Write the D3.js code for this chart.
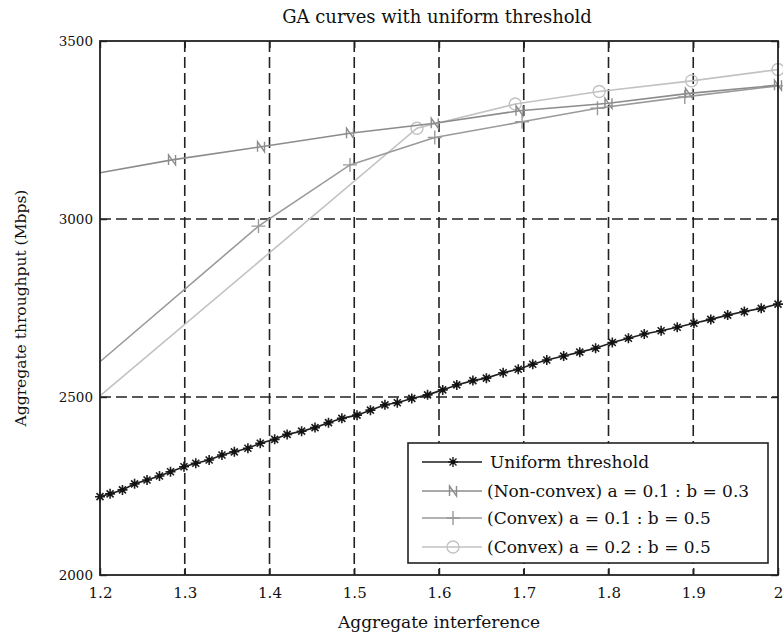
<!DOCTYPE html>
<html>
<head>
<meta charset="utf-8">
<script src="https://cdn.jsdelivr.net/npm/d3@7"></script>
<style>
  html, body { margin: 0; padding: 0; background: #fff; }
  svg text { font-family: "DejaVu Serif", "Liberation Serif", serif; fill: #111; }
</style>
</head>
<body>
<svg id="chart" width="783" height="640"></svg>
<script>
// ---- data ----
const xTickValues = [1.2, 1.3, 1.4, 1.5, 1.6, 1.7, 1.8, 1.9, 2.0];
const xTickLabels = ["1.2", "1.3", "1.4", "1.5", "1.6", "1.7", "1.8", "1.9", "2"];
const yTickValues = [2000, 2500, 3000, 3500];
const yTickLabels = ["2000", "2500", "3000", "3500"];

const uniformX = [1.2, 1.2119, 1.2265, 1.2408, 1.2555, 1.2702, 1.2832, 1.2991, 1.3130, 1.3288,
  1.3439, 1.3585, 1.3745, 1.3891, 1.4061, 1.4208, 1.4379, 1.4537, 1.4696,
  1.4854, 1.5033, 1.5191, 1.5362, 1.5508, 1.5679, 1.5865, 1.6044, 1.6210, 1.6400,
  1.6559, 1.6757, 1.6935, 1.7106, 1.7272, 1.7471, 1.7661,
  1.7848, 1.8045, 1.8235, 1.8422, 1.8621, 1.8811, 1.9008, 1.9207, 1.9406, 1.9603, 1.9802, 2.0];
const uniformY = [2220, 2228, 2239, 2256, 2267, 2278, 2290, 2304, 2314, 2323,
  2337, 2346, 2356, 2370, 2381, 2395, 2404, 2414, 2428,
  2440, 2449, 2463, 2478, 2484, 2496, 2506, 2520, 2534, 2546,
  2553, 2568, 2578, 2592, 2604, 2615, 2626,
  2637, 2653, 2665, 2677, 2686, 2696, 2707, 2718, 2730, 2740, 2749, 2761];

const nonConvexX = [1.2, 1.285, 1.39, 1.495, 1.595, 1.695, 1.8, 1.895, 2.0];
const nonConvexY = [3130, 3166, 3203, 3241, 3269, 3304, 3325, 3353, 3376];

const convexAX = [1.2, 1.387, 1.495, 1.595, 1.698, 1.787, 1.89, 2.0];
const convexAY = [2599, 2980, 3152, 3229, 3273, 3311, 3343, 3374];

const convexBX = [1.2, 1.574, 1.69, 1.789, 1.898, 2.0];
const convexBY = [2503, 3255, 3323, 3358, 3388, 3420];

const seriesNames = [
  "Uniform threshold",
  "(Non-convex) a = 0.1 : b = 0.3",
  "(Convex) a = 0.1 : b = 0.5",
  "(Convex) a = 0.2 : b = 0.5"
];

// ---- layout ----
const svg = d3.select("#chart");
const plotL = 100, plotR = 778, plotT = 41, plotB = 575;

const x = d3.scaleLinear().domain([1.2, 2.0]).range([plotL, plotR]);
const y = d3.scaleLinear().domain([2000, 3500]).range([plotB, plotT]);

// marker shapes
function markerPath(kind, s) {
  if (kind === "star") {
    const d = s * 0.7;
    return `M0,${-s}V${s}M${-s},0H${s}M${-d},${-d}L${d},${d}M${-d},${d}L${d},${-d}`;
  }
  if (kind === "n") {
    return `M${-s*0.7},${s}V${-s}L${s*0.7},${s}V${-s}`;
  }
  if (kind === "plus") {
    return `M0,${-s}V${s}M${-s},0H${s}`;
  }
  return "";
}

const series = [
  { name: seriesNames[0], xs: uniformX, ys: uniformY, color: "#1e1e1e", width: 1.6, marker: "star", size: 5, from: 0 },
  { name: seriesNames[1], xs: nonConvexX, ys: nonConvexY, color: "#8c8c8c", width: 1.6, marker: "n", size: 5, from: 1 },
  { name: seriesNames[2], xs: convexAX, ys: convexAY, color: "#9a9a9a", width: 1.6, marker: "plus", size: 7, from: 1 },
  { name: seriesNames[3], xs: convexBX, ys: convexBY, color: "#c2c2c2", width: 1.6, marker: "circle", size: 6, from: 1 }
];

// dashed grid
const gGrid = svg.append("g");
gGrid.selectAll("line.vx")
  .data(xTickValues.slice(1, -1))
  .enter().append("line")
  .attr("x1", d => x(d)).attr("x2", d => x(d))
  .attr("y1", plotT).attr("y2", plotB)
  .attr("stroke", "#222").attr("stroke-width", 1.6)
  .attr("stroke-dasharray", "11,5");
gGrid.selectAll("line.hy")
  .data(yTickValues.slice(1, -1))
  .enter().append("line")
  .attr("x1", plotL).attr("x2", plotR)
  .attr("y1", d => y(d)).attr("y2", d => y(d))
  .attr("stroke", "#222").attr("stroke-width", 1.6)
  .attr("stroke-dasharray", "11,5");

// series lines and markers (drawn back to front)
const line = d3.line().x(d => x(d[0])).y(d => y(d[1]));
[3, 2, 1, 0].forEach(i => {
  const s = series[i];
  const pts = s.xs.map((v, k) => [v, s.ys[k]]);
  const g = svg.append("g");
  g.append("path").datum(pts)
    .attr("d", line)
    .attr("fill", "none")
    .attr("stroke", s.color)
    .attr("stroke-width", s.width);
  const mk = pts.slice(s.from);
  if (s.marker === "circle") {
    g.selectAll("circle").data(mk).enter().append("circle")
      .attr("cx", d => x(d[0])).attr("cy", d => y(d[1]))
      .attr("r", s.size).attr("fill", "none")
      .attr("stroke", s.color).attr("stroke-width", 1.4);
  } else {
    g.selectAll("path.m").data(mk).enter().append("path")
      .attr("transform", d => `translate(${x(d[0])},${y(d[1])})`)
      .attr("d", markerPath(s.marker, s.size))
      .attr("fill", "none")
      .attr("stroke", s.color)
      .attr("stroke-width", s.marker === "star" ? 1.6 : 1.4);
    if (s.marker === "star") {
      g.selectAll("circle").data(mk).enter().append("circle")
        .attr("cx", d => x(d[0])).attr("cy", d => y(d[1]))
        .attr("r", 2.2).attr("fill", "#111");
    }
  }
});

// axes: frame with inward ticks
const tickLen = 7;
const axB = svg.append("g").attr("transform", `translate(0,${plotB})`)
  .call(d3.axisBottom(x).tickValues(xTickValues).tickFormat((d, i) => xTickLabels[i])
    .tickSizeInner(-tickLen).tickSizeOuter(0).tickPadding(15));
const axT = svg.append("g").attr("transform", `translate(0,${plotT})`)
  .call(d3.axisTop(x).tickValues(xTickValues).tickFormat("")
    .tickSizeInner(-tickLen).tickSizeOuter(0));
const axL = svg.append("g").attr("transform", `translate(${plotL},0)`)
  .call(d3.axisLeft(y).tickValues(yTickValues).tickFormat((d, i) => yTickLabels[i])
    .tickSizeInner(-tickLen).tickSizeOuter(0).tickPadding(7));
const axR = svg.append("g").attr("transform", `translate(${plotR},0)`)
  .call(d3.axisRight(y).tickValues(yTickValues).tickFormat("")
    .tickSizeInner(-tickLen).tickSizeOuter(0));
[axB, axT, axL, axR].forEach(a => {
  a.select(".domain").remove();
  a.selectAll(".tick line").attr("stroke", "#222").attr("stroke-width", 1.4);
  a.selectAll("text").attr("font-size", 13.5).attr("fill", "#111")
    .style("font-family", "'DejaVu Serif', serif");
});
axB.selectAll(".tick text").attr("font-size", 15).attr("dy", "0.55em");
svg.append("rect")
  .attr("x", plotL).attr("y", plotT)
  .attr("width", plotR - plotL).attr("height", plotB - plotT)
  .attr("fill", "none").attr("stroke", "#222").attr("stroke-width", 1.8);

// titles
svg.append("text").attr("x", 437).attr("y", 23)
  .attr("text-anchor", "middle").attr("font-size", 18)
  .text("GA curves with uniform threshold");
svg.append("text").attr("x", 439).attr("y", 628)
  .attr("text-anchor", "middle").attr("font-size", 17)
  .text("Aggregate interference");
svg.append("text")
  .attr("transform", `translate(26,${(plotT + plotB) / 2}) rotate(-90)`)
  .attr("text-anchor", "middle").attr("font-size", 15.5)
  .text("Aggregate throughput (Mbps)");

// legend
const lg = svg.append("g");
const lgX = 408, lgY = 443, lgW = 360, lgH = 120;
lg.append("rect").attr("x", lgX).attr("y", lgY).attr("width", lgW).attr("height", lgH)
  .attr("fill", "#fff").attr("stroke", "#222").attr("stroke-width", 1.6);
const rowY = [462, 491, 518, 547];
series.forEach((s, i) => {
  const cy = rowY[i];
  lg.append("line").attr("x1", 422).attr("x2", 482).attr("y1", cy).attr("y2", cy)
    .attr("stroke", s.color).attr("stroke-width", s.width);
  if (s.marker === "circle") {
    lg.append("circle").attr("cx", 453).attr("cy", cy).attr("r", s.size)
      .attr("fill", "none").attr("stroke", s.color).attr("stroke-width", 1.4);
  } else {
    lg.append("path").attr("transform", `translate(453,${cy})`)
      .attr("d", markerPath(s.marker, s.size))
      .attr("fill", "none").attr("stroke", s.color).attr("stroke-width", 1.4);
    if (s.marker === "star") {
      lg.append("circle").attr("cx", 453).attr("cy", cy).attr("r", 2.2).attr("fill", "#111");
    }
  }
  lg.append("text").attr("x", i === 0 ? 490 : 487).attr("y", cy).attr("dy", "0.35em")
    .attr("font-size", 17).text(s.name);
});
</script>
</body>
</html>
